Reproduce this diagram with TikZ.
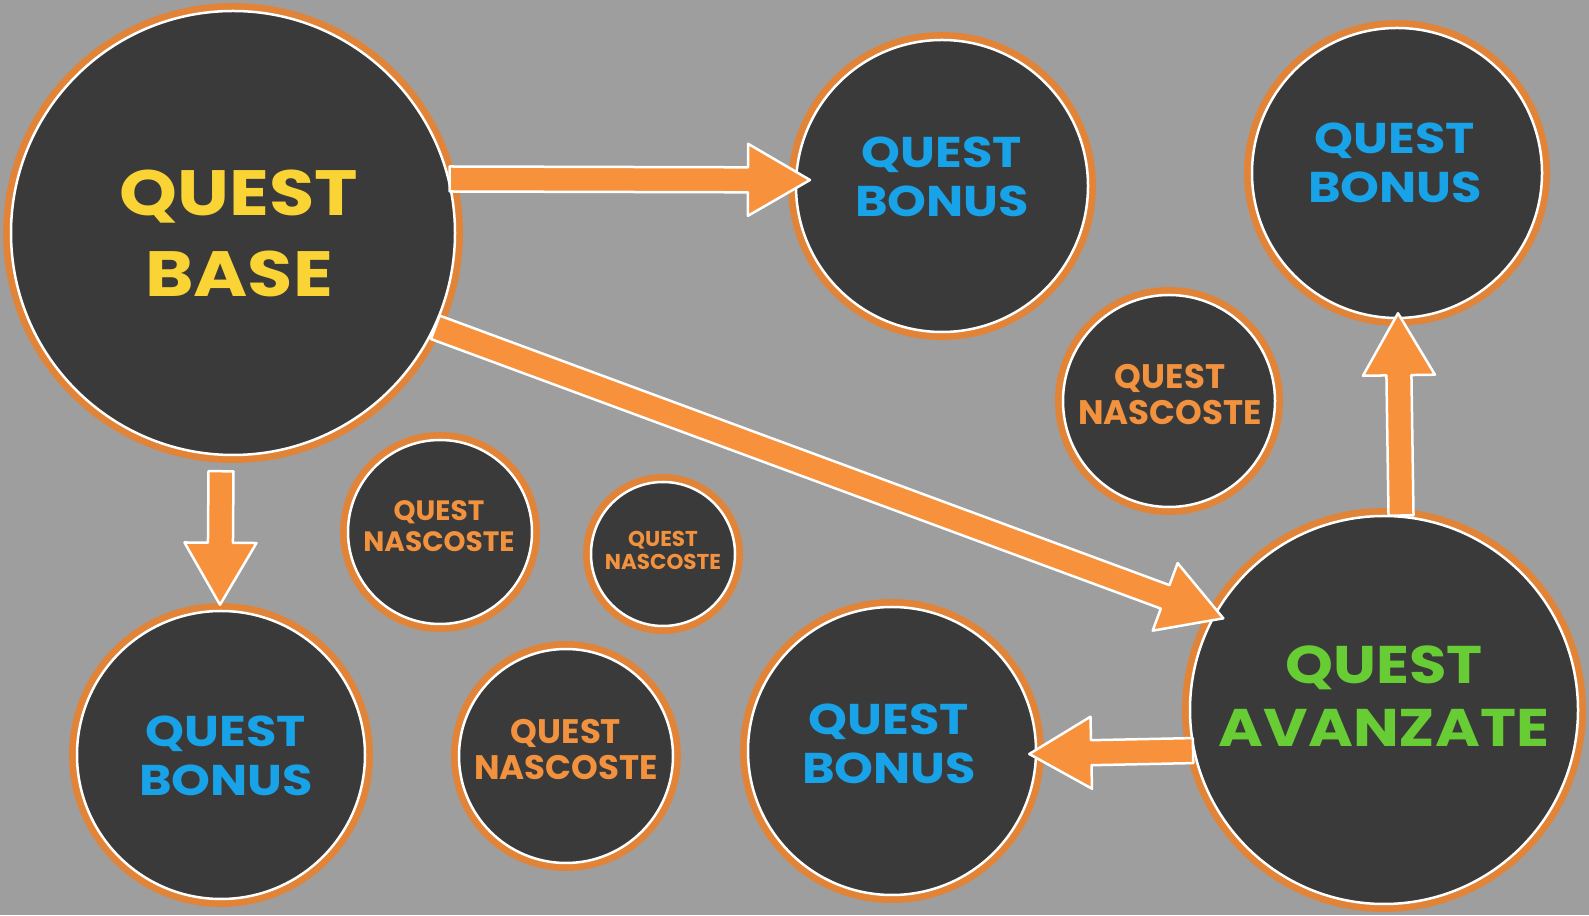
\documentclass[tikz,border=0pt]{standalone}
\usepackage{fontspec}
\newfontfamily\qfont{Poppins Bold}
\newfontfamily\qwide{Poppins Bold}[FakeStretch=1.15]
\usetikzlibrary{calc}

\definecolor{bggray}{RGB}{158,158,158}
\definecolor{disc}{RGB}{58,58,58}
\definecolor{ring}{RGB}{226,132,56}
\definecolor{arrowfill}{RGB}{247,145,60}
\definecolor{qyellow}{RGB}{250,212,52}
\definecolor{qblue}{RGB}{24,162,232}
\definecolor{qgreen}{RGB}{104,204,52}
\definecolor{qorange}{RGB}{242,146,62}

\tikzset{
  disk/.style={circle, inner sep=0pt, minimum size=2*#1, fill=disc,
    draw=white, line width=2.5pt,
    preaction={draw=ring, line width=16pt}},
  qtext/.style={align=center, inner sep=0pt},
  blockarrow/.style={fill=arrowfill, draw=white, line width=2.5pt, line join=round},
}

% block arrow from coordinate #1 to tip coordinate #2
\newcommand{\qarrow}[2]{%
  \coordinate (#1-h) at ($(#2)!62pt!(#1)$);
  \draw[blockarrow]
    ($(#1)!12.5pt!90:(#2)$) -- ($(#1-h)!12.5pt!90:(#2)$) --
    ($(#1-h)!36pt!90:(#2)$) -- (#2) --
    ($(#1-h)!36pt!-90:(#2)$) -- ($(#1-h)!12.5pt!-90:(#2)$) --
    ($(#1)!12.5pt!-90:(#2)$) -- cycle;
}

\begin{document}
\begin{tikzpicture}[x=1pt, y=1pt]
  \fill[bggray] (0,0) rectangle (1589,915);
  \useasboundingbox (0,0) rectangle (1589,915);

  % discs
  \node[disk=222pt] (base)   at (233,682) {};
  \node[disk=146pt] (bonusA) at (942,729) {};
  \node[disk=145pt] (bonusB) at (1397,742) {};
  \node[disk=106pt] (nascA)  at (1169,514) {};
  \node[disk=194pt] (avanz)  at (1384,205) {};
  \node[disk=144pt] (bonusC) at (892,164) {};
  \node[disk=107pt] (nascB)  at (566,159) {};
  \node[disk=144pt] (bonusD) at (221,160) {};
  \node[disk=92pt]  (nascC)  at (440,383) {};
  \node[disk=72pt]  (nascD)  at (663,361) {};

  % labels
  \node[qtext, text=qyellow, font={\qwide\fontsize{64}{81}\selectfont}]
    (base-t) at ($(base)+(6,0)$) {QUEST\\BASE};
  \node[qtext, text=qblue, font={\qwide\fontsize{43}{49}\selectfont}]
    (bonusA-t) at ($(bonusA)+(0,9.5)$) {QUEST\\BONUS};
  \node[qtext, text=qblue, font={\qwide\fontsize{43}{49}\selectfont}]
    (bonusB-t) at ($(bonusB)+(-2,10.5)$) {QUEST\\BONUS};
  \node[qtext, text=qblue, font={\qwide\fontsize{43}{49}\selectfont}]
    (bonusC-t) at ($(bonusC)+(-3,7)$) {QUEST\\BONUS};
  \node[qtext, text=qblue, font={\qwide\fontsize{43}{49}\selectfont}]
    (bonusD-t) at ($(bonusD)+(5,-1)$) {QUEST\\BONUS};
  \node[qtext, text=qgreen, font={\qwide\fontsize{53}{63}\selectfont}]
    (avanz-t) at ($(avanz)+(0,13.5)$) {QUEST\\AVANZATE};
  \node[qtext, text=qorange, font={\qfont\fontsize{34}{36}\selectfont}]
    (nascA-t) at ($(nascA)+(1,6.5)$) {QUEST\\NASCOSTE};
  \node[qtext, text=qorange, font={\qfont\fontsize{34}{36}\selectfont}]
    (nascB-t) at ($(nascB)+(0,6)$) {QUEST\\NASCOSTE};
  \node[qtext, text=qorange, font={\qfont\fontsize{28}{31}\selectfont}]
    (nascC-t) at ($(nascC)+(-1,5.5)$) {QUEST\\NASCOSTE};
  \node[qtext, text=qorange, font={\qfont\fontsize{21.5}{23}\selectfont}]
    (nascD-t) at ($(nascD)+(0,3.5)$) {QUEST\\NASCOSTE};

  % arrow end points
  \coordinate (a1s) at (base.14);
  \coordinate (a1t) at ($(bonusA.center)+(-132,6)$);
  \coordinate (a2s) at (base.-25);
  \coordinate (a2t) at ($(avanz.center)+(150.3:185)$);
  \coordinate (a3s) at ($(base.south)+(-12,-15)$);
  \coordinate (a3t) at ($(bonusD.north)+(-1,5)$);
  \coordinate (a4s) at (avanz.85.3);
  \coordinate (a4t) at ($(bonusB.south)+(1,6)$);
  \coordinate (a5s) at (avanz.192);
  \coordinate (a5t) at ($(bonusC.east)+(-8,-3)$);

  \qarrow{a1s}{a1t}
  \qarrow{a2s}{a2t}
  \qarrow{a3s}{a3t}
  \qarrow{a4s}{a4t}
  \qarrow{a5s}{a5t}
\end{tikzpicture}
\end{document}
